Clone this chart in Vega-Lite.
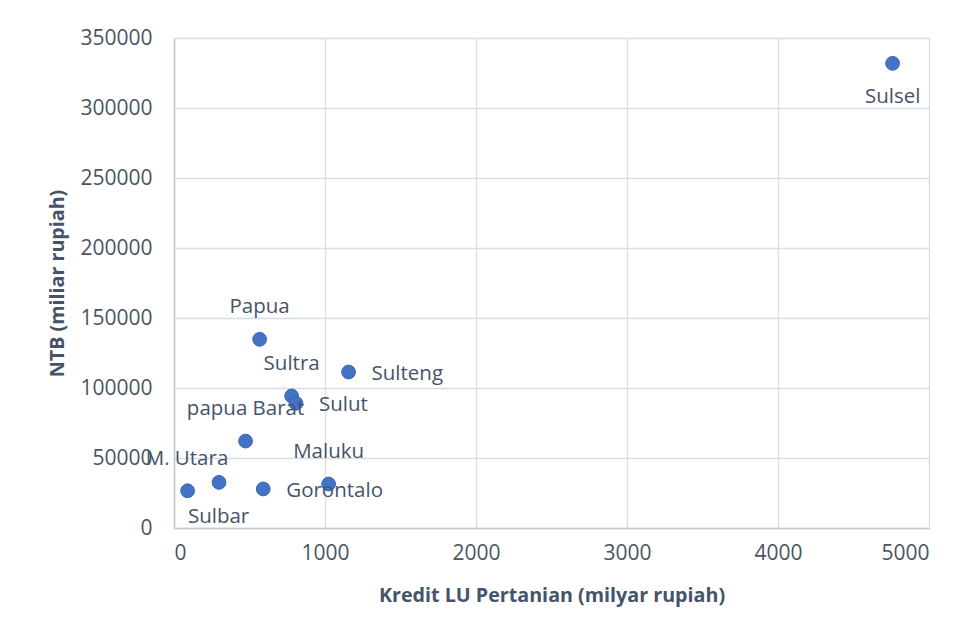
{
  "$schema": "https://vega.github.io/schema/vega-lite/v6.json",
  "width": 755,
  "height": 490,
  "autosize": "none",
  "padding": {"left": 174, "top": 38, "right": 43, "bottom": 108},
  "background": "white",
  "config": {
    "font": "Open Sans",
    "view": {"stroke": "#d9dde3", "strokeWidth": 1},
    "axis": {
      "labelFont": "Open Sans",
      "labelFontSize": 21,
      "labelColor": "#4a5563",
      "titleFont": "Open Sans",
      "titleFontSize": 19.7,
      "titleFontWeight": "bold",
      "titleColor": "#44546a",
      "gridColor": "#d9dde3",
      "gridWidth": 1.3,
      "domainColor": "#c3c9d1",
      "domainWidth": 1.5,
      "ticks": false
    }
  },
  "data": {
    "values": [
      {"name": "Sulsel", "kredit": 4759, "ntb": 331900},
      {"name": "Papua", "kredit": 567, "ntb": 134800},
      {"name": "Sulteng", "kredit": 1156, "ntb": 111400},
      {"name": "Sultra", "kredit": 779, "ntb": 94300},
      {"name": "Sulut", "kredit": 808, "ntb": 89100},
      {"name": "papua Barat", "kredit": 474, "ntb": 62100},
      {"name": "M. Utara", "kredit": 298, "ntb": 32600},
      {"name": "Sulbar", "kredit": 90, "ntb": 26600},
      {"name": "Gorontalo", "kredit": 591, "ntb": 27900},
      {"name": "Maluku", "kredit": 1024, "ntb": 31400}
    ]
  },
  "encoding": {
    "x": {
      "field": "kredit",
      "type": "quantitative",
      "scale": {"domain": [0, 5000], "nice": false},
      "axis": {
        "title": "Kredit LU Pertanian (milyar rupiah)",
        "values": [0, 1000, 2000, 3000, 4000, 5000],
        "labelPadding": 14,
        "titlePadding": 22,
        "format": "d"
      }
    },
    "y": {
      "field": "ntb",
      "type": "quantitative",
      "scale": {"domain": [0, 350000], "nice": false},
      "axis": {
        "title": "NTB (miliar rupiah)",
        "values": [0, 50000, 100000, 150000, 200000, 250000, 300000, 350000],
        "labelPadding": 22,
        "titlePadding": 12,
        "format": "d"
      }
    }
  },
  "layer": [
    {
      "mark": {"type": "circle", "size": 190, "color": "#4472c4", "opacity": 1, "stroke": "#3c66b2", "strokeWidth": 1}
    },
    {
      "transform": [{"filter": "indexof(['Papua','Sultra','papua Barat','Maluku'], datum.name) >= 0"}],
      "mark": {"type": "text", "dy": -32, "fontSize": 20.5, "color": "#44546a", "align": "center", "baseline": "middle"},
      "encoding": {"text": {"field": "name"}}
    },
    {
      "transform": [{"filter": "datum.name == 'Sulsel'"}],
      "mark": {"type": "text", "dy": 34, "fontSize": 20.5, "color": "#44546a", "align": "center", "baseline": "middle"},
      "encoding": {"text": {"field": "name"}}
    },
    {
      "transform": [{"filter": "indexof(['Sulteng','Sulut','Gorontalo'], datum.name) >= 0"}],
      "mark": {"type": "text", "dx": 23, "dy": 2, "fontSize": 20.5, "color": "#44546a", "align": "left", "baseline": "middle"},
      "encoding": {"text": {"field": "name"}}
    },
    {
      "transform": [{"filter": "datum.name == 'M. Utara'"}],
      "mark": {"type": "text", "dx": -32, "dy": -23, "fontSize": 20.5, "color": "#44546a", "align": "center", "baseline": "middle"},
      "encoding": {"text": {"field": "name"}}
    },
    {
      "transform": [{"filter": "datum.name == 'Sulbar'"}],
      "mark": {"type": "text", "dx": 31, "dy": 26, "fontSize": 20.5, "color": "#44546a", "align": "center", "baseline": "middle"},
      "encoding": {"text": {"field": "name"}}
    }
  ]
}
